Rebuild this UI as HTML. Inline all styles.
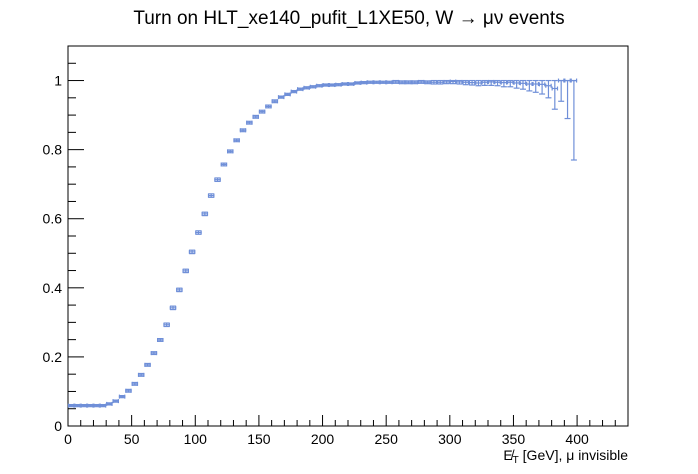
<!DOCTYPE html>
<html><head><meta charset="utf-8"><style>
body{margin:0;background:#fff;}
svg{display:block;font-family:"Liberation Sans",sans-serif;}
</style></head><body>
<svg id="c" width="698" height="474" xmlns="http://www.w3.org/2000/svg">
<rect width="698" height="474" fill="#fff"/>
<text x="349" y="24" text-anchor="middle" font-size="19">Turn on HLT_xe140_pufit_L1XE50, W → μν events</text>
<g id="axes"></g>
<g id="marks"></g>
<text x="628" y="460" text-anchor="end" font-size="14">E̸<tspan font-size="10" dy="3">T</tspan><tspan dy="-3"> [GeV], μ invisible</tspan></text>
</svg>
<script>
const binWidth = 5;
const effValues = [0.059,0.059,0.059,0.059,0.059,0.059,0.064,0.072,0.085,0.102,0.122,0.148,0.177,0.211,0.249,0.293,0.342,0.394,0.449,0.504,0.56,0.614,0.667,0.713,0.757,0.795,0.827,0.856,0.878,0.895,0.91,0.925,0.94,0.952,0.96,0.968,0.975,0.979,0.982,0.985,0.987,0.987,0.988,0.99,0.99,0.993,0.994,0.995,0.995,0.995,0.995,0.996,0.995,0.995,0.995,0.996,0.995,0.995,0.995,0.996,0.997,0.996,0.995,0.994,0.993,0.995,0.996,0.995,0.994,0.995,0.993,0.992,0.99,0.99,0.989,0.985,0.977,1.0,1.0,1.0];
const errValues = [0.003,0.003,0.003,0.003,0.003,0.003,0.003,0.003,0.003,0.004,0.004,0.004,0.004,0.004,0.004,0.005,0.005,0.005,0.005,0.005,0.005,0.005,0.005,0.005,0.004,0.004,0.004,0.004,0.004,0.004,0.004,0.004,0.004,0.003,0.003,0.003,0.003,0.003,0.003,0.003,0.003,0.003,0.003,0.003,0.003,0.003,0.003,0.003,0.003,0.003,0.003,0.004,0.004,0.004,0.004,0.004,0.004,0.005,0.005,0.005,0.006,0.006,0.007,0.007,0.008,0.009,0.01,0.01,0.012,0.013,0.015,0.017,0.02,0.024,0.028,0.035,0.06,0.06,0.11,0.23];
const xTickLabels = [0,50,100,150,200,250,300,350,400];
const yTickLabels = [0,0.2,0.4,0.6,0.8,1];
const X0=68,X1=628,Y0=426,Y1=46,XMAX=440,YMAX=1.1;
const sx=v=>X0+v/XMAX*(X1-X0), sy=v=>Y0-v/YMAX*(Y0-Y1);
const NS="http://www.w3.org/2000/svg";
function mk(t,a,p){const e=document.createElementNS(NS,t);for(const k in a)e.setAttribute(k,a[k]);p.appendChild(e);return e;}
const ax=document.getElementById('axes'), mg=document.getElementById('marks');
const frame=mk('rect',{x:X0,y:Y1,width:X1-X0,height:Y0-Y1,fill:'none',stroke:'#000','stroke-width':1},ax);


for(let v=0;v<=XMAX;v+=10){const L=v%50===0?11:6;mk('line',{x1:sx(v),x2:sx(v),y1:Y0,y2:Y0-L,stroke:'#000'},ax);}
for(let v=0;v<=YMAX+1e-9;v+=0.05){const L=Math.round(v*100)%20===0?16:8;mk('line',{x1:X0,x2:X0+L,y1:sy(v),y2:sy(v),stroke:'#000'},ax);}
xTickLabels.forEach(v=>{const t=mk('text',{x:sx(v),y:Y0+18,'text-anchor':'middle','font-size':14},ax);t.textContent=v;

});
yTickLabels.forEach(v=>{const t=mk('text',{x:X0-6,y:sy(v)+5,'text-anchor':'end','font-size':14},ax);t.textContent=v;

});
const col='#6f8fd8';
effValues.forEach((v,i)=>{
 const g=mk('g',{stroke:col,'stroke-width':1.2,fill:'none'},mg);
 
 
 const xa=sx(i*binWidth),xb=sx((i+1)*binWidth),xc=(xa+xb)/2;
 const hi=Math.min(1,v+errValues[i]),lo=v-errValues[i];
 const y=sy(v);
 mk('line',{x1:xa,x2:xb,y1:y,y2:y},g);
 mk('line',{x1:xa+0.5,x2:xa+0.5,y1:y-2,y2:y+2},g);
 mk('line',{x1:xb-0.5,x2:xb-0.5,y1:y-2,y2:y+2},g);
 if(sy(lo)-sy(hi)>2){
  mk('line',{x1:xc,x2:xc,y1:sy(hi),y2:sy(lo)},g);
  mk('line',{x1:xc-3,x2:xc+3,y1:sy(hi),y2:sy(hi)},g);
  mk('line',{x1:xc-3,x2:xc+3,y1:sy(lo),y2:sy(lo)},g);
 } else {
  mk('rect',{x:xa,y:y-1,width:xb-xa,height:2,fill:col,stroke:'none'},g);
 }
});
</script>
</body></html>
